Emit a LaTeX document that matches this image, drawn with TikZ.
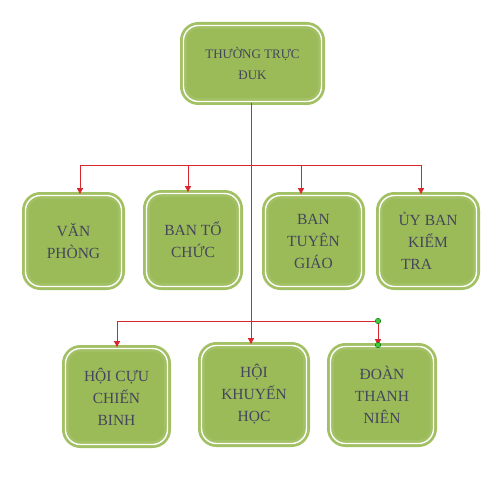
\documentclass[tikz,border=0pt]{standalone}
\usepackage{fontspec}
\setmainfont{Liberation Serif}
\usetikzlibrary{arrows.meta}
\definecolor{boxgreen}{HTML}{9BBB59}
\definecolor{rimgreen}{HTML}{A2C064}
\definecolor{txtcol}{HTML}{45455C}
\definecolor{linered}{HTML}{D8262E}
\definecolor{dotgreen}{HTML}{3DCB3D}
\tikzset{
  orgbox/.style={rounded corners=15pt, fill=boxgreen, draw=rimgreen, double=white,
    double distance=1.4pt, line width=2.8pt, align=center, text=txtcol,
    font=\fontsize{15.5}{22}\selectfont, inner sep=0pt},
  topbox/.style={orgbox, font=\fontsize{13}{21}\selectfont},
  conn/.style={draw=linered, line width=0.9pt},
  arr/.style={conn, -{Triangle[width=6pt,length=6pt]}},
  handle/.style={circle, fill=dotgreen, draw=green!40!black, line width=0.4pt, inner sep=0pt, minimum size=5.5pt}
}
\begin{document}
\begin{tikzpicture}[x=1pt,y=-1pt]
\fill[white] (0,0) rectangle (500,476);
\useasboundingbox (0,0) rectangle (500,476);
% boxes (size = visual size - 7)
\node[topbox, minimum width=138pt, minimum height=76pt] (top) at (252.5,63.5) {THƯỜNG TRỰC\\ĐUK};
\node[orgbox, minimum width=96pt, minimum height=91pt] (vp) at (73.5,241) {VĂN\\PHÒNG};
\node[orgbox, minimum width=93pt, minimum height=93pt] (btc) at (193,240) {BAN TỔ\\CHỨC};
\node[orgbox, minimum width=96pt, minimum height=91pt] (btg) at (313.5,241) {BAN\\TUYÊN\\GIÁO};
\node[orgbox, minimum width=97pt, minimum height=91pt] (ubkt) at (428,241) {ỦY BAN\\KIỂM\\TRA\rule{23pt}{0pt}};
\node[orgbox, minimum width=102pt, minimum height=96pt] (hccb) at (116.5,396.5) {HỘI CỰU\\CHIẾN\\BINH};
\node[orgbox, minimum width=105pt, minimum height=98pt] (hkh) at (254,394.5) {HỘI\\KHUYẾN\\HỌC};
\node[orgbox, minimum width=103pt, minimum height=97pt] (dtn) at (382,395) {ĐOÀN\\THANH\\NIÊN};
% junctions
\coordinate (j1) at (251,165);
\coordinate (a1) at (80,165);
\coordinate (a2) at (188,165);
\coordinate (a3) at (301,165);
\coordinate (a4) at (421,165);
\coordinate (hl) at (117,321);
\coordinate (hr) at (378,321);
% main trunk
\draw[arr] (top.south -| j1) -- (hkh.north -| j1);
% row 2 branches
\draw[conn] (a1) -- (a4);
\draw[arr] (a1) -- (vp.north -| a1);
\draw[arr] (a2) -- (btc.north -| a2);
\draw[arr] (a3) -- (btg.north -| a3);
\draw[arr] (a4) -- (ubkt.north -| a4);
% row 3 branches
\draw[conn] (hl) -- (hr);
\draw[arr] (hl) -- (hccb.north -| hl);
\draw[arr] (hr) -- (dtn.north -| hr);
% selection handles
\node[handle] (h1) at (hr) {};
\node[handle] (h2) at (378,345) {};
\end{tikzpicture}
\end{document}
